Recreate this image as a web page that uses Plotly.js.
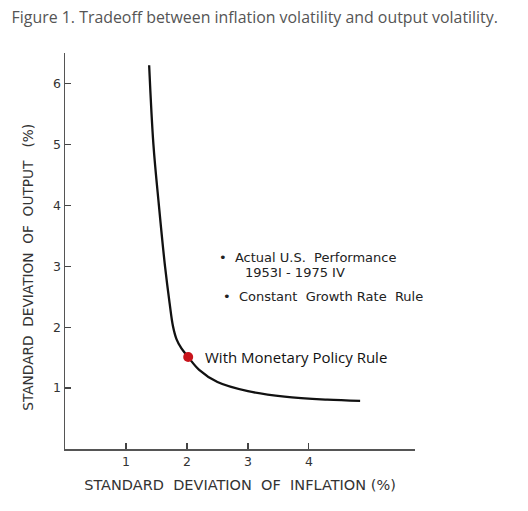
<!DOCTYPE html>
<html>
<head>
<meta charset="utf-8">
<script src="https://cdn.plot.ly/plotly-3.0.1.min.js"></script>
<style>html,body{margin:0;padding:0;background:#fff;}</style>
</head>
<body>
<div id="chart" style="width:528px;height:511px;"></div>
<script>
// Tradeoff curve: std dev of inflation (x) vs std dev of output (y)
const inflationSD = [1.38, 1.45, 1.54, 1.64, 1.715, 1.77, 1.83, 1.91, 2.02, 2.2, 2.5, 3.0, 3.6, 4.3, 4.84];
const outputSD    = [6.3, 5.0, 4.0, 3.0, 2.4, 2.02, 1.8, 1.65, 1.51, 1.3, 1.1, 0.95, 0.86, 0.81, 0.79];
// Monetary policy rule point
const ruleX = [2.02];
const ruleY = [1.51];
const xTicks = [1, 2, 3, 4];
const yTicks = [1, 2, 3, 4, 5, 6];

const data = [
  {x: inflationSD, y: outputSD, mode: 'lines', type: 'scatter',
   line: {color: '#111', width: 2.3, shape: 'spline', smoothing: 1.0}, hoverinfo: 'skip'},
  {x: ruleX, y: ruleY, mode: 'markers', type: 'scatter',
   marker: {color: '#c8141c', size: 10}, hoverinfo: 'skip'}
];

const labelFont = {family: 'DejaVu Sans, sans-serif', size: 13, color: '#222'};
const layout = {
  width: 528, height: 511,
  margin: {l: 65, r: 113, t: 53, b: 62},
  paper_bgcolor: '#fff', plot_bgcolor: '#fff',
  showlegend: false,
  title: {text: 'Figure 1. Tradeoff between inflation volatility and output volatility.',
          font: {family: 'Open Sans', size: 15.9, color: '#555'},
          x: 0.022, xanchor: 'left', y: 0.965, yanchor: 'middle'},
  xaxis: {range: [0, 5.74], tickvals: xTicks, ticktext: xTicks.map(String),
          ticks: 'inside', ticklen: 6, tickwidth: 1.2, tickcolor: '#444',
          showline: true, linecolor: '#555', linewidth: 1.5, showgrid: false, zeroline: false,
          tickfont: {family: 'DejaVu Sans, sans-serif', size: 12.5, color: '#333'},
          title: {text: 'STANDARD  DEVIATION  OF  INFLATION (%)', standoff: 12,
                  font: {family: 'DejaVu Sans, sans-serif', size: 14.5, color: '#333'}}},
  yaxis: {range: [0, 6.5], tickvals: yTicks, ticktext: yTicks.map(String),
          ticks: 'inside', ticklen: 6, tickwidth: 1.2, tickcolor: '#444',
          showline: true, linecolor: '#555', linewidth: 1.5, showgrid: false, zeroline: false,
          tickfont: {family: 'DejaVu Sans, sans-serif', size: 12.5, color: '#333'},
          title: {text: ''}},
  annotations: [
    {x: -0.106, y: 0.46, xref: 'paper', yref: 'paper', xanchor: 'center', yanchor: 'middle',
     showarrow: false, textangle: -90,
     text: 'STANDARD  DEVIATION  OF  OUTPUT   (%)',
     font: {family: 'DejaVu Sans, sans-serif', size: 13.7, color: '#333'}},
    {x: 2.49, y: 3.136, xref: 'x', yref: 'y', xanchor: 'left', yanchor: 'middle', showarrow: false,
     text: '•  Actual U.S.  Performance', font: labelFont},
    {x: 2.918, y: 2.89, xref: 'x', yref: 'y', xanchor: 'left', yanchor: 'middle', showarrow: false,
     text: '1953I - 1975 IV', font: labelFont},
    {x: 2.56, y: 2.496, xref: 'x', yref: 'y', xanchor: 'left', yanchor: 'middle', showarrow: false,
     text: '•  Constant  Growth Rate  Rule', font: labelFont},
    {x: 2.27, y: 1.51, xref: 'x', yref: 'y', xanchor: 'left', yanchor: 'middle', showarrow: false,
     text: 'With Monetary Policy Rule', font: {family: 'Open Sans', size: 15, color: '#111'}}
  ]
};

Plotly.newPlot('chart', data, layout, {displayModeBar: false, staticPlot: true});
</script>
</body>
</html>
